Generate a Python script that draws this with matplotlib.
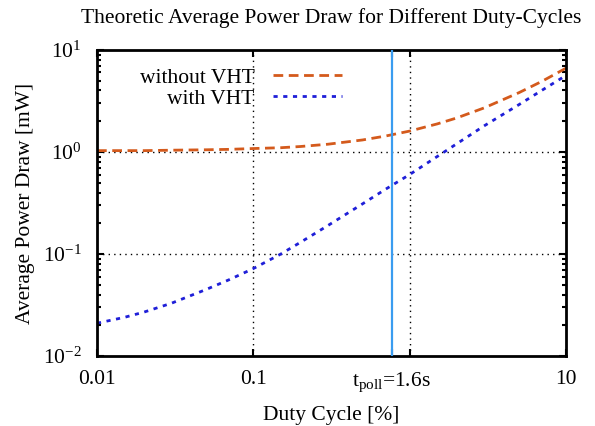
import numpy as np
import matplotlib
matplotlib.use("Agg")
import matplotlib.pyplot as plt

plt.rcParams['font.family'] = ['Liberation Serif', 'DejaVu Serif']
plt.rcParams['mathtext.fontset'] = 'custom'
plt.rcParams['mathtext.rm'] = 'Liberation Serif'
plt.rcParams['mathtext.it'] = 'Liberation Serif:italic'

# Duty cycle [%]
duty = [0.01, 0.015, 0.02, 0.03, 0.05, 0.07, 0.1, 0.15, 0.2, 0.3,
        0.5, 0.7, 1, 1.5, 2, 3, 5, 7, 10]
# Average power draw [mW]
p_without = [1.03, 1.03, 1.03, 1.04, 1.05, 1.06, 1.08, 1.10, 1.13, 1.19,
             1.31, 1.43, 1.60, 1.88, 2.15, 2.70, 3.8, 4.9, 6.6]
p_with = [0.021, 0.024, 0.027, 0.033, 0.045, 0.056, 0.072, 0.10, 0.13, 0.19,
          0.31, 0.43, 0.60, 0.90, 1.2, 1.8, 2.9, 4.0, 5.6]

t_poll = 0.77   # duty cycle at t_poll = 1.6 s

xticks = [0.01, 0.1, t_poll, 1, 10]
xlabels = ['0.01', '0.1', r'$\mathregular{t_{poll}}$=1.6s', '', '10']
yticks = [0.01, 0.1, 1, 10]
ylabels = [r'$\mathregular{10^{-2}}$', r'$\mathregular{10^{-1}}$',
           r'$\mathregular{10^{0}}$', r'$\mathregular{10^{1}}$']

fs = 15.5

fig = plt.figure(figsize=(5.95, 4.26), dpi=100)
ax = fig.add_axes([0.163, 0.164, 0.788, 0.719])

ax.plot(duty, p_without, color='#d45a1c', linewidth=2, dashes=(3.5, 2),
        label='without VHT')
ax.plot(duty, p_with, color='#1f1fd8', linewidth=2, dashes=(1.5, 2),
        label='with VHT')
ax.axvline(t_poll, color='#3a9cf0', linewidth=1.6, zorder=3)

ax.set_xscale('log')
ax.set_yscale('log')
ax.set_xlim(0.01, 10)
ax.set_ylim(0.01, 10)

ax.set_xticks(xticks)
ax.set_xticklabels(xlabels, fontsize=fs)
ax.set_yticks(yticks)
ax.set_yticklabels(ylabels, fontsize=fs)
ax.xaxis.set_minor_locator(matplotlib.ticker.NullLocator())
ax.yaxis.set_minor_locator(matplotlib.ticker.LogLocator(base=10, subs=np.arange(2, 10)))
ax.yaxis.set_minor_formatter(matplotlib.ticker.NullFormatter())

ax.tick_params(which='both', direction='in', top=True, right=True, width=1.5)
ax.tick_params(which='major', length=5)
ax.tick_params(which='minor', length=3)
ax.tick_params(axis='y', which='major', pad=11)
ax.tick_params(axis='x', which='major', pad=10)

for x in [0.1, 1]:
    ax.axvline(x, color='black', linewidth=1, linestyle=(0, (1, 3)), zorder=1)
for y in [0.1, 1]:
    ax.axhline(y, color='black', linewidth=1, linestyle=(0, (1, 3)), zorder=1)

for s in ax.spines.values():
    s.set_linewidth(2)

ax.set_title('Theoretic Average Power Draw for Different Duty-Cycles',
             fontsize=fs, pad=19)
ax.set_xlabel('Duty Cycle [%]', fontsize=fs, labelpad=9)
ax.set_ylabel('Average Power Draw [mW]', fontsize=fs, labelpad=6)

ax.legend(loc='upper right', bbox_to_anchor=(0.522, 0.942), frameon=False,
          markerfirst=False, fontsize=fs, handlelength=3.2, handletextpad=0.85,
          labelspacing=0.05, borderaxespad=0.0, borderpad=0.0)
leg = ax.get_legend()
for t in leg.get_texts():
    t.set_ha('right')

fig.savefig('out.png', dpi=100)
